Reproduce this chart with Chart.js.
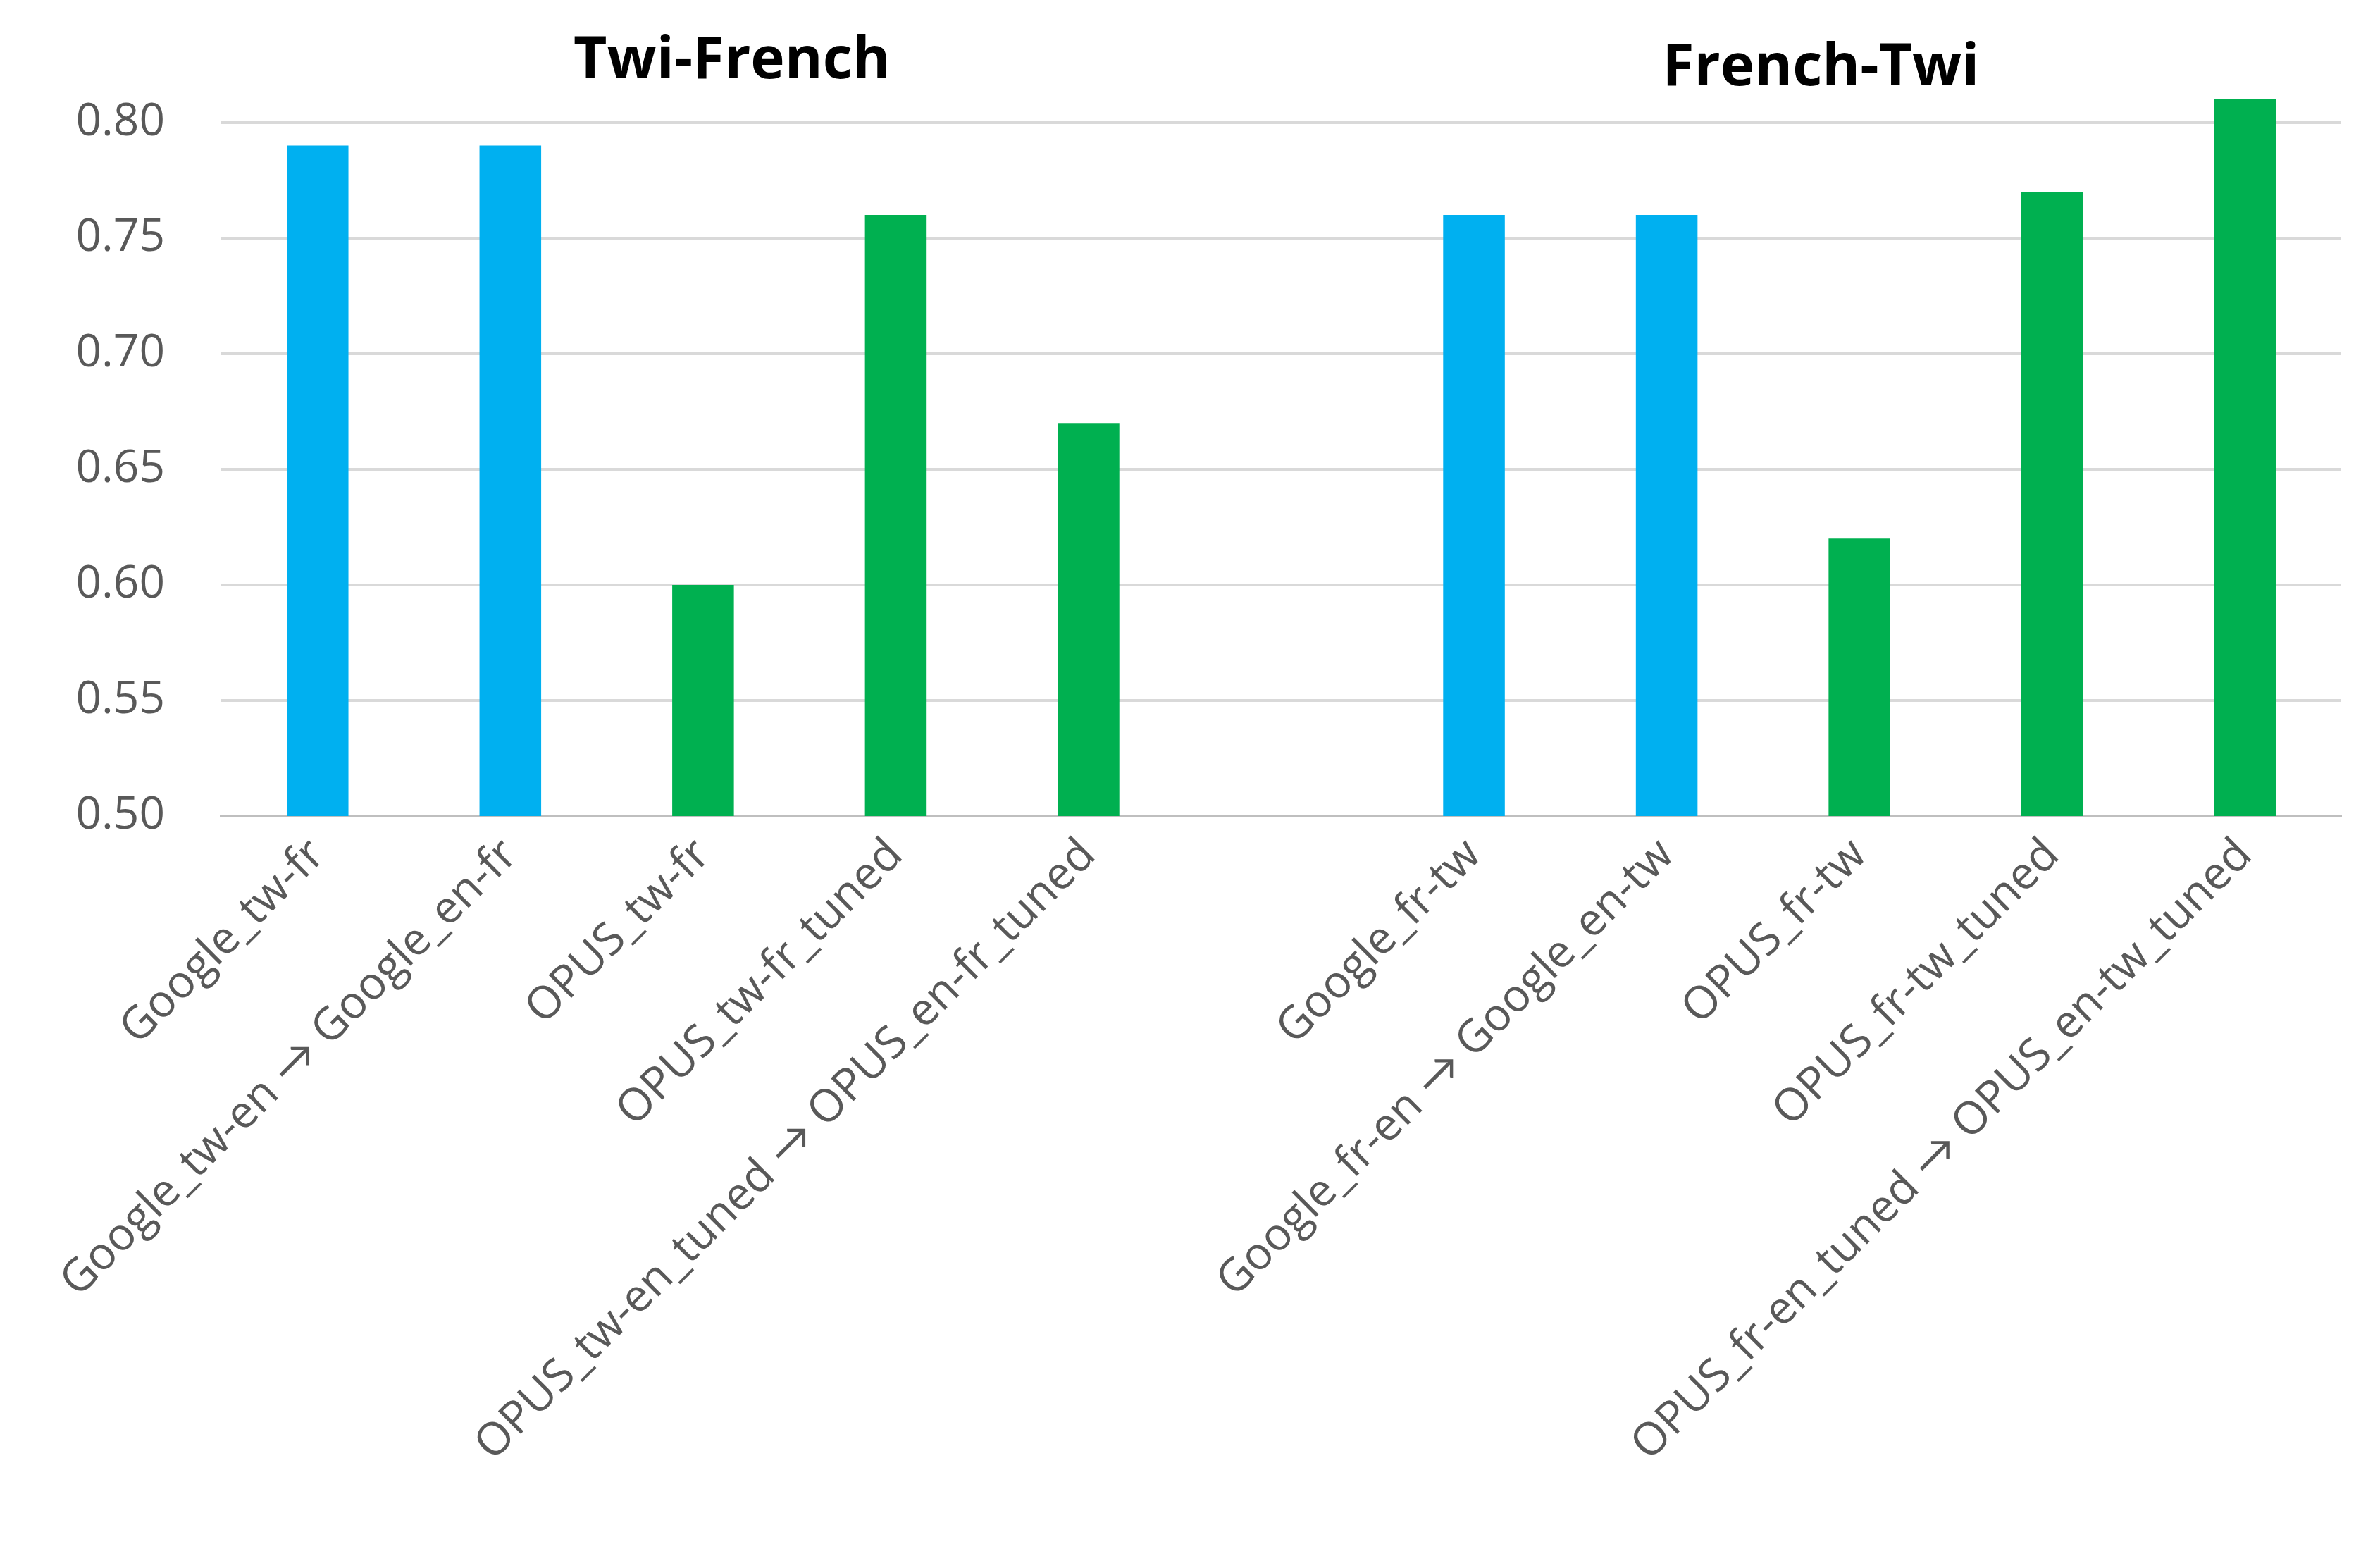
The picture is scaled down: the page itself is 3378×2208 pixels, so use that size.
<!DOCTYPE html>
<html>
<head>
<meta charset="utf-8">
<script src="https://cdn.jsdelivr.net/npm/chart.js@4"></script>
<style>
  html, body { margin: 0; padding: 0; background: #fff; }
  #wrap { width: 3378px; height: 2208px; }
</style>
</head>
<body>
<div id="wrap"><canvas id="chart"></canvas></div>
<script>
const categories = [
  'Google_tw-fr', 'Google_tw-en → Google_en-fr', 'OPUS_tw-fr', 'OPUS_tw-fr_tuned', 'OPUS_tw-en_tuned → OPUS_en-fr_tuned',
  '',
  'Google_fr-tw', 'Google_fr-en → Google_en-tw', 'OPUS_fr-tw', 'OPUS_fr-tw_tuned', 'OPUS_fr-en_tuned → OPUS_en-tw_tuned'
];
const scores = [0.79, 0.79, 0.60, 0.76, 0.67, null, 0.76, 0.76, 0.62, 0.77, 0.81];
const barColors = ['#00B0F0', '#00B0F0', '#00B050', '#00B050', '#00B050', '#fff',
                   '#00B0F0', '#00B0F0', '#00B050', '#00B050', '#00B050'];
const yTicks = [0.50, 0.55, 0.60, 0.65, 0.70, 0.75, 0.80];
const groupTitles = [{ text: 'Twi-French', at: 2.15 }, { text: 'French-Twi', at: 7.8 }];

const font = '"Open Sans", Lato, sans-serif';

const titlePlugin = {
  id: 'groupTitles',
  afterDraw(chart) {
    const ctx = chart.ctx;
    const x = chart.scales.x;
    ctx.save();
    ctx.fillStyle = '#000';
    ctx.font = 'bold 82px ' + font;
    ctx.textAlign = 'center';
    ctx.textBaseline = 'middle';
    groupTitles.forEach((g, i) => {
      ctx.fillText(g.text, x.getPixelForValue(g.at), i === 0 ? 88 : 98);
    });
    ctx.restore();
  }
};

new Chart(document.getElementById('chart'), {
  type: 'bar',
  data: {
    labels: categories,
    datasets: [{ data: scores, backgroundColor: barColors, categoryPercentage: 1, barPercentage: 0.32 }]
  },
  options: {
    responsive: true,
    maintainAspectRatio: false,
    animation: false,
    layout: { padding: { top: 141, right: 55, left: 0, bottom: 0 } },
    plugins: { legend: { display: false }, tooltip: { enabled: false } },
    scales: {
      x: {
        grid: { display: false },
        border: { color: '#bfbfbf', width: 4 },
        ticks: { minRotation: 45, maxRotation: 45, autoSkip: false, padding: 10, color: '#595959', font: { family: font, size: 64 } },
        afterFit(s) { s.height = 1050; }
      },
      y: {
        min: 0.5, max: 0.81,
        afterBuildTicks(s) { s.ticks = yTicks.map(v => ({ value: v })); },
        grid: { color: '#d9d9d9', lineWidth: 4, drawTicks: false },
        border: { display: false },
        ticks: { color: '#595959', padding: 80, font: { family: font, size: 64 }, callback: v => v.toFixed(2) },
        afterFit(s) { s.width = 314; }
      }
    }
  },
  plugins: [titlePlugin]
});
</script>
</body>
</html>
